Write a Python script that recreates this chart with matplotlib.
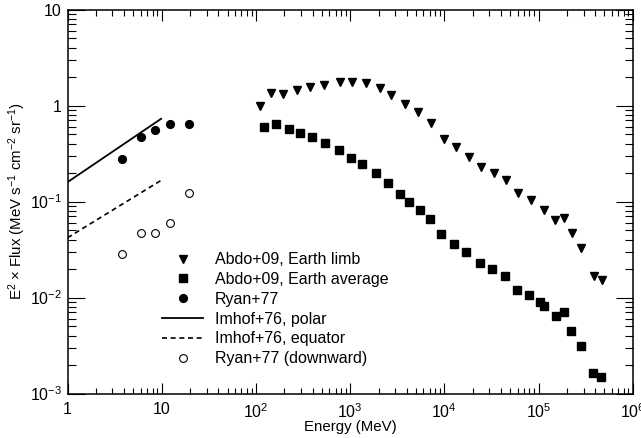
import matplotlib
matplotlib.use("Agg")
import matplotlib.pyplot as plt
import numpy as np

plt.rcParams['font.family'] = ['Liberation Sans', 'DejaVu Sans']
plt.rcParams['mathtext.fontset'] = 'custom'
plt.rcParams['mathtext.rm'] = 'Liberation Sans'
plt.rcParams['mathtext.it'] = 'Liberation Sans:italic'
plt.rcParams['mathtext.bf'] = 'Liberation Sans:bold'

# Abdo+09, Earth limb
limb_E = [111, 143, 196, 274, 379, 525, 776, 1059, 1490, 2063, 2700, 3866, 5311,
          7228, 9860, 13450, 18300, 24770, 34040, 44870, 61200, 83300, 114300,
          150300, 185000, 225000, 284000, 385000, 469000]
limb_F = [0.99, 1.34, 1.32, 1.46, 1.55, 1.65, 1.75, 1.75, 1.71, 1.53, 1.30, 1.04, 0.846,
          0.654, 0.446, 0.368, 0.289, 0.228, 0.197, 0.166, 0.124, 0.104, 0.081,
          0.0649, 0.0681, 0.0468, 0.0324, 0.0168, 0.0152]

# Abdo+09, Earth average
avg_E = [121, 164, 222, 297, 395, 538, 757, 1016, 1339, 1871, 2528, 3422, 4224, 5487,
         7122, 9320, 12670, 16880, 23750, 32090, 43760, 59700, 80000, 104700, 113500,
         152000, 185000, 223000, 285000, 379000, 465000]
avg_F = [0.597, 0.638, 0.571, 0.523, 0.468, 0.409, 0.346, 0.287, 0.243, 0.196, 0.154,
         0.121, 0.0984, 0.082, 0.0661, 0.0461, 0.0365, 0.0301, 0.0230, 0.0196, 0.0166,
         0.0120, 0.0107, 0.00887, 0.0082, 0.00638, 0.00698, 0.0045, 0.00311, 0.00162,
         0.00148]

# Ryan+77
ryan_E = [3.83, 6.10, 8.59, 12.2, 19.4]
ryan_F = [0.276, 0.468, 0.558, 0.638, 0.634]

# Ryan+77 (downward)
ryan_down_E = [3.83, 6.10, 8.59, 12.2, 19.4]
ryan_down_F = [0.0285, 0.0468, 0.0468, 0.0594, 0.124]

# Imhof+76 lines (end points)
imhof_polar_E = [1.0, 9.85]
imhof_polar_F = [0.159, 0.727]
imhof_eq_E = [1.0, 9.85]
imhof_eq_F = [0.0419, 0.166]

xticks = [1, 10, 1e2, 1e3, 1e4, 1e5, 1e6]
xticklabels = ['1', '10', r'$10^2$', r'$10^3$', r'$10^4$', r'$10^5$', r'$10^6$']
yticks = [1e-3, 1e-2, 1e-1, 1, 10]
yticklabels = [r'$10^{-3}$', r'$10^{-2}$', r'$10^{-1}$', '1', '10']

fig = plt.figure(figsize=(6.41, 4.38), dpi=100)
ax = fig.add_axes([67.5/641, 1-393.5/438, (632.8-67.5)/641, (393.5-9.5)/438])

ms = 5.6
ax.plot(limb_E, limb_F, 'v', color='black', ms=ms, label='Abdo+09, Earth limb')
ax.plot(avg_E, avg_F, 's', color='black', ms=ms, label='Abdo+09, Earth average')
ax.plot(ryan_E, ryan_F, 'o', color='black', ms=ms, label='Ryan+77')
ax.plot(imhof_polar_E, imhof_polar_F, '-', color='black', lw=1.3, label='Imhof+76, polar')
ax.plot(imhof_eq_E, imhof_eq_F, '--', color='black', lw=1.2, dashes=(3, 2.2),
        label='Imhof+76, equator')
ax.plot(ryan_down_E, ryan_down_F, 'o', mfc='white', mec='black', mew=0.8, ms=ms,
        label='Ryan+77 (downward)')

ax.set_xscale('log')
ax.set_yscale('log')
ax.set_xlim(1, 1e6)
ax.set_ylim(1e-3, 10)
ax.set_xticks(xticks, xticklabels)
ax.set_yticks(yticks, yticklabels)
ax.xaxis.set_minor_formatter(matplotlib.ticker.NullFormatter())
ax.yaxis.set_minor_formatter(matplotlib.ticker.NullFormatter())

for s in ax.spines.values():
    s.set_linewidth(1.1)

ax.tick_params(axis='x', which='major', direction='in', length=8, width=0.8,
               top=True, labelsize=11.5, pad=6)
ax.tick_params(axis='x', which='minor', direction='in', length=4, width=0.8, top=True)
ax.tick_params(axis='y', which='major', direction='in', length=12, width=0.8,
               right=True, labelsize=11.5, pad=4)
ax.tick_params(axis='y', which='minor', direction='in', length=6, width=0.8, right=True)

ax.set_xlabel('Energy (MeV)', fontsize=10.8)
ax.xaxis.set_label_coords(0.5, -0.07)
ax.set_ylabel(r'E$^2$ × Flux (MeV s$^{-1}$ cm$^{-2}$ sr$^{-1}$)', fontsize=10.8)
ax.yaxis.set_label_coords(-0.069, 0.5)

ax.legend(loc='upper left', bbox_to_anchor=(0.167, 0.368), frameon=False,
          fontsize=11.5, borderpad=0, borderaxespad=0, handlelength=2.6,
          handletextpad=0.7, labelspacing=0.3, numpoints=1)

fig.savefig('out.png', dpi=100)
